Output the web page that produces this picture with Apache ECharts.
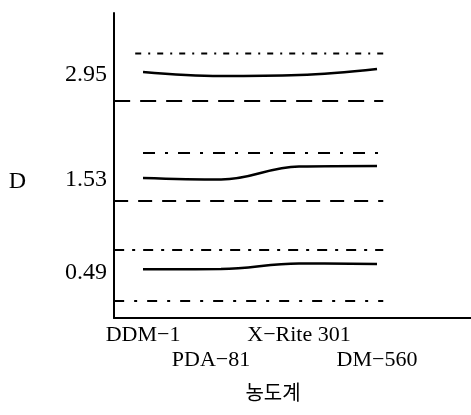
<!DOCTYPE html>
<html>
<head>
<meta charset="utf-8">
<script src="https://cdn.jsdelivr.net/npm/echarts@6/dist/echarts.min.js"></script>
<style>html,body{margin:0;padding:0;background:#fff;}#c{width:471px;height:415px;}</style>
</head>
<body>
<div id="c"></div>
<script>
// ---- data ----
const categories = ['DDM−1', 'PDA−81', 'X−Rite 301', 'DM−560'];
const categoryIndex = [0, 1, 2, 3];
const upperRowIndex = [0, 2];
const lowerRowIndex = [1, 3];
const yTickLabels = ['0.49', '1.53', '2.95'];
const yTickValues = [0.45, 1.38, 2.43];
const solid295 = [2.46, 2.42, 2.43, 2.49];
const solid153 = [1.40, 1.385, 1.515, 1.52];
const solid049 = [0.487, 0.49, 0.545, 0.54];
const boundNames = ['upper295', 'lower295', 'upper153', 'lower153', 'upper049', 'lower049'];
const boundLevels = [2.645, 2.17, 1.65, 1.17, 0.68, 0.17];
const boundStart = [-0.1, -0.37, 0, -0.37, -0.37, -0.37];
const boundEnd = [3.08, 3.08, 3.08, 3.08, 3.08, 3.08];
const boundDash = [[6, 7, 2, 7], [16, 10], [12, 10, 3, 10], [14, 10], [10, 8, 3, 8], [10, 10, 3, 10]];

const chart = echarts.init(document.getElementById('c'), null, {renderer: 'canvas'});
const serif = 'Liberation Serif';

const series = [];
[solid295, solid153, solid049].forEach((vals, k) => {
  series.push({
    name: 'solid' + k, type: 'line', smooth: 0.4, symbol: 'none',
    data: categoryIndex.map((x, i) => [x, vals[i]]),
    lineStyle: {color: '#000', width: 2.5, type: 'solid'}
  });
});
boundLevels.forEach((lv, k) => {
  series.push({
    name: boundNames[k], type: 'line', symbol: 'none',
    data: [[boundStart[k], lv], [boundEnd[k], lv]],
    lineStyle: {color: '#000', width: 2, type: boundDash[k]}
  });
});

const xMin = -0.372, xMax = 4.205;
const labelFormatter = function (v) {
  const i = Math.round(v);
  return i === 1 ? '{s|' + categories[i] + '}' : categories[i];
};

chart.setOption({
  animation: false,
  backgroundColor: '#fff',
  grid: {left: 114, right: 0, top: 13, bottom: 97, containLabel: false, outerBoundsMode: 'none'},
  xAxis: [{
    type: 'value', min: xMin, max: xMax, position: 'bottom',
    name: '농도계', nameLocation: 'middle', nameGap: 64,
    nameTextStyle: {fontFamily: 'Noto Sans CJK KR', fontSize: 20, color: '#000', padding: [0, 39, 0, 0]},
    axisLine: {show: true, onZero: false, lineStyle: {color: '#000', width: 2}},
    axisTick: {show: false},
    splitLine: {show: false},
    axisLabel: {
      customValues: upperRowIndex, hideOverlap: false,
      margin: 6, fontFamily: serif, fontSize: 22, color: '#000',
      formatter: labelFormatter
    }
  }, {
    type: 'value', min: xMin, max: xMax, position: 'bottom', offset: 0,
    axisLine: {show: false, onZero: false},
    axisTick: {show: false},
    splitLine: {show: false},
    axisLabel: {
      customValues: lowerRowIndex, hideOverlap: false,
      margin: 31, fontFamily: serif, fontSize: 22, color: '#000',
      formatter: labelFormatter,
      rich: {s: {fontFamily: serif, fontSize: 22, color: '#000', padding: [0, 20, 0, 0]}}
    }
  }],
  yAxis: {
    type: 'value', min: 0, max: 3.05,
    name: 'D', nameLocation: 'middle', nameRotate: 0, nameGap: 88,
    nameTextStyle: {fontFamily: serif, fontSize: 24, color: '#000', verticalAlign: 'top', padding: [4, 0, 0, 0]},
    axisLine: {show: true, onZero: false, lineStyle: {color: '#000', width: 2}},
    axisTick: {show: false},
    splitLine: {show: false},
    axisLabel: {
      customValues: yTickValues,
      margin: 7, fontFamily: serif, fontSize: 24, color: '#000',
      formatter: function (v) {
        let best = 0;
        yTickValues.forEach((t, i) => { if (Math.abs(t - v) < Math.abs(yTickValues[best] - v)) best = i; });
        return yTickLabels[best];
      }
    }
  },
  series: series
});
</script>
</body>
</html>
